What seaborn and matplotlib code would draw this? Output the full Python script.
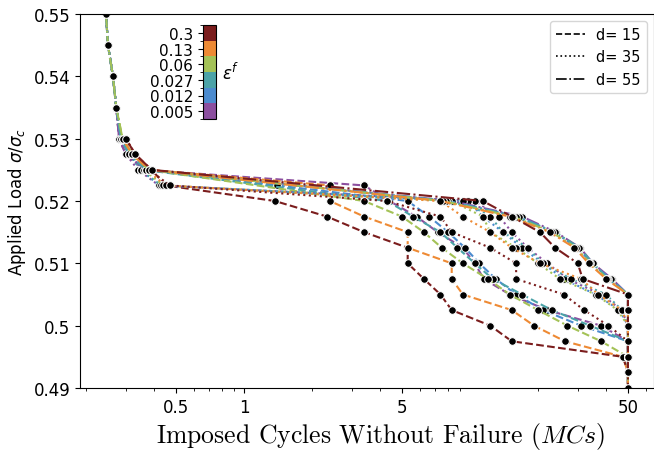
import numpy as np
import pandas as pd
import seaborn as sns
import matplotlib.pyplot as plt
from matplotlib.lines import Line2D
from matplotlib.colors import ListedColormap, BoundaryNorm
from matplotlib.cm import ScalarMappable
from matplotlib.ticker import FuncFormatter, NullFormatter

nan = np.nan

# load levels (sigma / sigma_c), shared by every curve
loads = [0.55, 0.545, 0.54, 0.535, 0.53, 0.5275, 0.525, 0.5225, 0.52, 0.5175, 0.515,
         0.5125, 0.51, 0.5075, 0.505, 0.5025, 0.5, 0.4975, 0.495, 0.4925, 0.49]

strain_labels = ["0.005", "0.012", "0.027", "0.06", "0.13", "0.3"]
strain_colors = ["#8c4f9f", "#4b8bcf", "#4ba3a8", "#a4c257", "#ee8a34", "#7b1d1d"]
depths = [15, 35, 55]
depth_styles = {15: "--", 35: ":", 55: "-."}

# imposed cycles (MCs) reached at each load level, nan = no point at that level
d15_e005 = [0.245, 0.25, 0.263, 0.272, 0.28, 0.30, 0.36, 3.4, 4.4, 5.8, 7.2, 9.3, 10.5, 11.5, 15, 22, 38, 50, 50, 50, 50]
d15_e012 = [0.245, 0.25, 0.263, 0.272, 0.285, 0.31, 0.37, 1.4, 5.3, 6.6, 8.0, 9.5, 11.0, 13.0, 16.0, 21, 31, 50, 50, 50, 50]
d15_e027 = [0.245, 0.25, 0.263, 0.272, 0.285, 0.31, 0.36, nan, 4.3, 5.6, 7.4, 8.8, 10.5, 12.6, 17, 23, 34, 50, 50, 50, 50]
d15_e06 = [0.245, 0.25, 0.263, 0.272, 0.29, 0.32, 0.38, nan, 3.4, 5.0, 6.25, 7.5, 9.3, 12.0, 15.0, 20.0, 27, 38, 50, 50, 50]
d15_e13 = [nan, nan, nan, nan, 0.29, 0.32, 0.38, 2.4, 2.4, 3.4, 5.3, 5.3, 8.3, 8.3, 9.3, 15.3, 19.2, 26.3, 47.5, 50, 50]
d15_e3 = [nan, nan, nan, nan, 0.30, 0.33, 0.39, 0.45, 1.37, 2.33, 3.4, 5.3, 5.3, 6.25, 7.4, 8.3, 12.3, 15.3, 47.5, 50, 50]

d35_e005 = [0.245, 0.25, 0.263, 0.272, 0.28, 0.30, 0.34, 0.42, 10.5, 13.5, 15.3, 18, 22, 27, 38, 47, 50, 50, 50, 50, 50]
d35_e012 = [0.245, 0.25, 0.263, 0.272, 0.285, 0.31, 0.35, 0.42, 9.8, 11.4, 14.0, 17.0, 21.0, 26.0, 36, 46, 50, 50, 50, 50, 50]
d35_e027 = [0.245, 0.25, 0.263, 0.272, 0.285, 0.31, 0.35, 0.43, 9.3, 12.3, 14.0, 18.0, 21.0, 28.0, 40, 47, 50, 50, 50, 50, 50]
d35_e06 = [0.245, 0.25, 0.263, 0.272, 0.29, 0.32, 0.36, 0.44, 8.3, 11.4, 12.3, 16.0, 20.0, 25.0, 36, 45, 50, 50, 50, 50, 50]
d35_e13 = [nan, nan, nan, nan, 0.29, 0.32, 0.37, 0.45, 7.4, 9.3, 12.3, 15.3, 20.4, 31, 37, 47, 50, 50, 50, 50, 50]
d35_e3 = [nan, nan, nan, nan, 0.30, 0.33, 0.38, 0.47, 4.3, 7.4, 8.3, 12.3, 16, 16, 26, 32, 41, 50, 50, 50, 50]

d55_e005 = [0.245, 0.25, 0.263, 0.272, 0.28, 0.30, 0.37, nan, 8.3, 17.0, 24.0, 30.7, 35.0, 42.5, 50, 50, 50, 50, 50, 50, 50]
d55_e012 = [0.245, 0.25, 0.263, 0.272, 0.285, 0.31, 0.37, nan, 8.0, 16.5, 23.5, 30.0, 34.5, 42.0, 50, 50, 50, 50, 50, 50, 50]
d55_e027 = [0.245, 0.25, 0.263, 0.272, 0.285, 0.31, 0.37, nan, 7.8, 16.0, 23.8, 30.5, 35.0, 41.0, 50, 50, 50, 50, 50, 50, 50]
d55_e06 = [0.245, 0.25, 0.263, 0.272, 0.29, 0.32, 0.38, nan, 7.6, 15.5, 23.0, 29.5, 34.0, 40.5, 50, 50, 50, 50, 50, 50, 50]
d55_e13 = [nan, nan, nan, nan, 0.29, 0.32, 0.38, nan, 7.4, 15.0, 22.5, 29.0, 33.5, 40.0, 50, 50, 50, 50, 50, 50, 50]
d55_e3 = [nan, nan, nan, nan, 0.30, 0.33, 0.39, nan, 11.4, 15.3, 20.4, 23.8, 30.0, 31.5, 50, 50, 50, 50, 50, 50, 50]

curves = {
    15: [d15_e005, d15_e012, d15_e027, d15_e06, d15_e13, d15_e3],
    35: [d35_e005, d35_e012, d35_e027, d35_e06, d35_e13, d35_e3],
    55: [d55_e005, d55_e012, d55_e027, d55_e06, d55_e13, d55_e3],
}

# long table
rows = []
for d in depths:
    for i, cyc in enumerate(curves[d]):
        for c, s in zip(cyc, loads):
            rows.append((d, strain_labels[i], c, s))
df = pd.DataFrame(rows, columns=["depth", "strain", "cycles", "load"]).dropna()

fig = plt.figure(figsize=(6.54, 4.52), dpi=100)
ax = fig.add_axes([80 / 654, 1 - 389 / 452, 574 / 654, 374 / 452])

for d in depths:
    for i, lab in enumerate(strain_labels):
        sub = df[(df.depth == d) & (df.strain == lab)]
        sns.lineplot(data=sub, x="cycles", y="load", ax=ax, sort=False, estimator=None,
                     color=strain_colors[i], linestyle=depth_styles[d], lw=1.5,
                     marker="o", markersize=5.5, markerfacecolor="k")

ax.set_xscale("log")
ax.set_xlim(0.188, 65.2)
ax.set_ylim(0.49, 0.55)
ax.set_xticks([0.5, 1, 5, 50])
ax.set_xticklabels(["0.5", "1", "5", "50"])
ax.xaxis.set_minor_formatter(NullFormatter())
ax.set_yticks([0.49, 0.50, 0.51, 0.52, 0.53, 0.54, 0.55])
ax.yaxis.set_major_formatter(FuncFormatter(lambda v, p: f"{v:g}"))
ax.tick_params(labelsize=12)

ax.set_xlabel(r"Imposed Cycles Without Failure ($MCs$)", fontsize=18.5,
              fontfamily="cmr10", math_fontfamily="cm")
ax.xaxis.set_label_coords(0.524, -0.085)
ax.set_ylabel(r"Applied Load $\sigma/\sigma_c$", fontsize=12)

handles = [Line2D([], [], color="k", ls=depth_styles[d], lw=1.2) for d in depths]
ax.legend(handles, [f"d= {d}" for d in depths], loc="upper right", fontsize=10.5)

# discrete colour bar for the strain values
cmap = ListedColormap(strain_colors)
norm = BoundaryNorm(np.arange(7), 6)
cax = fig.add_axes([203 / 654, 1 - 120 / 452, 13 / 654, 94 / 452])
cb = fig.colorbar(ScalarMappable(norm=norm, cmap=cmap), cax=cax, ticks=np.arange(6) + 0.5)
cb.set_ticklabels(strain_labels)
cax.yaxis.set_ticks_position("left")
cax.tick_params(labelsize=11)
cax.yaxis.set_label_position("right")
cax.set_ylabel(r"$\varepsilon^f$", rotation=0, fontsize=12, ha="left", va="center", labelpad=4)

plt.savefig("out.png", dpi=100)
